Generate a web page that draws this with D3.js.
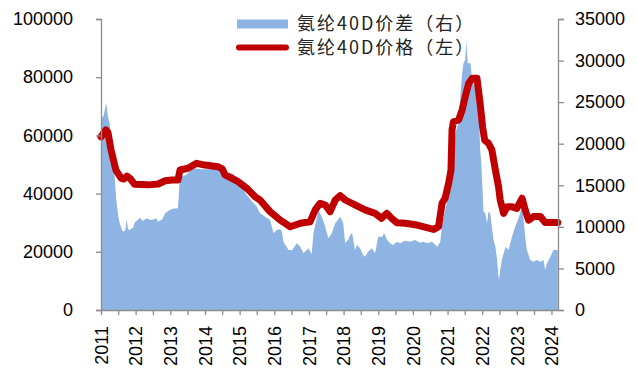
<!DOCTYPE html>
<html>
<head>
<meta charset="utf-8">
<script src="https://cdn.jsdelivr.net/npm/d3@7/dist/d3.min.js"></script>
<style>
  html, body { margin: 0; padding: 0; background: #fff; }
  svg { display: block; }
</style>
</head>
<body>
<svg id="chart" width="637" height="372"></svg>
<script>
// Spandex 40D price spread (right axis), weekly observations
const spreadDates = [
  "2011-01-01","2011-01-26","2011-02-25","2011-03-15","2011-04-02","2011-05-09","2011-06-11","2011-07-02",
  "2011-07-17","2011-08-08","2011-08-23","2011-09-14","2011-09-28","2011-10-13","2011-10-27","2011-12-06",
  "2011-12-21","2012-02-17","2012-03-15","2012-04-21","2012-06-14","2012-08-08","2012-08-26","2012-10-09",
  "2012-11-07","2012-12-25","2013-02-06","2013-03-22","2013-04-10","2013-04-24","2013-06-14","2013-07-21",
  "2013-09-10","2013-11-18","2014-02-25","2014-05-27","2014-07-21","2014-10-16","2014-12-25","2015-03-04",
  "2015-04-28","2015-07-02","2015-08-04","2015-09-28","2015-11-18","2015-12-25","2016-01-26","2016-03-04",
  "2016-03-22","2016-04-06","2016-05-31","2016-07-06","2016-08-26","2016-10-02","2016-11-04","2016-12-28",
  "2017-01-30","2017-02-17","2017-03-30","2017-04-10","2017-05-16","2017-06-22","2017-07-24","2017-08-30",
  "2017-10-05","2017-11-07","2017-11-26","2017-12-28","2018-01-17","2018-02-18","2018-03-11","2018-04-01",
  "2018-04-17","2018-05-02","2018-05-23","2018-06-24","2018-07-26","2018-08-16","2018-09-16","2018-10-28",
  "2018-11-29","2018-12-31","2019-02-12","2019-03-04","2019-04-05","2019-05-06","2019-06-07","2019-07-19",
  "2019-08-19","2019-10-11","2019-12-03","2020-01-25","2020-03-18","2020-04-19","2020-05-31","2020-07-23",
  "2020-09-14","2020-10-16","2020-11-06","2020-12-07","2021-01-07","2021-02-17","2021-03-04","2021-04-02",
  "2021-04-28","2021-05-16","2021-06-03","2021-06-18","2021-07-06","2021-07-17","2021-08-01","2021-08-30",
  "2021-09-17","2021-10-20","2021-11-26","2021-12-10","2021-12-21","2022-01-15","2022-02-03","2022-02-21",
  "2022-03-08","2022-03-26","2022-04-13","2022-05-01","2022-05-20","2022-06-07","2022-06-22","2022-06-29",
  "2022-07-10","2022-07-28","2022-09-03","2022-10-05","2022-11-11","2022-12-14","2023-01-19","2023-02-25",
  "2023-03-11","2023-03-30","2023-04-17","2023-05-23","2023-06-25","2023-07-31","2023-09-06","2023-10-09",
  "2023-10-27","2023-11-15","2023-12-21","2024-01-22","2024-03-08"
];
const spreadValues = [
  23000,23300,24860,23250,22450,18440,13230,11300,
  10420,9700,9420,9600,10900,9700,9620,9900,
  10500,11100,10700,11000,10820,11000,10620,10900,
  11630,12030,12200,12230,15600,16030,16240,16640,
  17040,16920,16920,17640,16440,16440,15640,14040,
  13230,12430,11630,11220,10820,9220,9620,9700,
  9420,8210,7220,7200,8020,7620,6820,7420,
  6720,9220,11300,12030,11220,10020,8620,9220,
  10420,10900,11220,10460,8060,8420,9020,9260,
  8210,7220,7820,7420,6610,6410,7010,7420,
  6820,8820,8820,9220,8420,8020,7820,8210,
  8020,8340,8210,8420,8100,8210,8020,8210,
  7620,8210,10430,12030,13630,16800,19200,21650,
  22450,25650,28470,29670,30070,32400,29670,29670,
  27660,26860,24450,19240,18040,11820,11630,10420,
  11820,11630,10020,8420,7620,6010,4010,3700,
  4810,6010,7620,7220,8820,10020,11030,12430,
  11220,8820,7220,6010,5810,6010,5810,6010,
  4810,5610,6420,7220,7220
];

// Spandex 40D price (left axis)
const priceDates = [
  "2011-01-01","2011-01-12","2011-02-21","2011-03-15","2011-04-17","2011-06-07","2011-08-01","2011-08-30",
  "2011-10-02","2011-11-04","2011-12-21","2012-05-12","2012-08-26","2012-11-07","2013-01-19","2013-03-22",
  "2013-04-13","2013-07-06","2013-10-05","2014-01-01","2014-05-20","2014-07-02","2014-08-01","2014-12-17",
  "2015-03-19","2015-06-14","2015-08-04","2015-11-18","2016-03-04","2016-06-18","2016-10-02","2017-01-12",
  "2017-03-08","2017-04-28","2017-06-22","2017-08-12","2017-10-05","2017-11-26","2018-01-19","2018-05-01",
  "2018-08-15","2018-11-29","2019-02-06","2019-04-02","2019-05-23","2019-07-17","2019-10-13","2020-02-14",
  "2020-08-08","2020-09-28","2020-11-04","2020-12-06","2021-01-12","2021-02-06","2021-02-17","2021-03-04",
  "2021-04-28","2021-06-03","2021-07-06","2021-08-12","2021-09-17","2021-11-07","2021-12-10","2022-01-05",
  "2022-01-27","2022-03-08","2022-04-13","2022-05-20","2022-06-22","2022-07-10","2022-08-15","2022-09-21",
  "2022-11-11","2023-01-01","2023-02-25","2023-03-30","2023-05-05","2023-06-25","2023-09-06","2023-10-27",
  "2024-03-08"
];
const priceValues = [
  59500,60000,61900,61000,55000,48100,45300,45000,
  46000,45200,43200,43000,43300,44400,44700,44700,
  48100,48700,50400,49800,49200,48500,46400,44100,
  41800,38900,37800,33800,30900,28600,29800,30300,
  34400,36700,36100,33800,37800,39300,37800,36100,
  34400,33200,31500,33200,31500,30000,29800,29200,
  27700,28600,36700,38400,43500,48100,61900,64700,
  65300,68700,73300,77900,79600,79600,71000,63000,
  58400,57300,55000,48100,42400,37800,33200,35500,
  35500,34900,38400,34400,30900,32100,32100,30100,
  30100
];

const leftTicks = [0, 20000, 40000, 60000, 80000, 100000];
const rightTicks = [0, 5000, 10000, 15000, 20000, 25000, 30000, 35000];
const yearLabels = ["2011","2012","2013","2014","2015","2016","2017","2018","2019","2020","2021","2022","2023","2024"];
const legendLabels = ["氨纶40D价差（右）", "氨纶40D价格（左）"];

const parse = d3.timeParse("%Y-%m-%d");
const spread = spreadDates.map((d, i) => ({ date: parse(d), value: spreadValues[i] }));
const price = priceDates.map((d, i) => ({ date: parse(d), value: priceValues[i] }));

const W = 637, H = 372;
const margin = { top: 19, right: 79, bottom: 62, left: 101 };
const iw = W - margin.left - margin.right;
const ih = H - margin.top - margin.bottom;

const svg = d3.select("#chart");
const g = svg.append("g").attr("transform", `translate(${margin.left},${margin.top})`);

const x = d3.scaleTime()
  .domain([parse("2011-01-01"), parse("2024-03-10")])
  .range([0, iw]);
const yL = d3.scaleLinear().domain([0, 100000]).range([ih, 0]);
const yR = d3.scaleLinear().domain([0, 35000]).range([ih, 0]);

const axisColor = "#8c8c8c";
const tickFont = "'Liberation Sans', Arial, sans-serif";

// spread area
g.append("path")
  .datum(spread)
  .attr("fill", "#8db4e2")
  .attr("d", d3.area().x(d => x(d.date)).y0(yR(0)).y1(d => yR(d.value)));

// price line
g.append("path")
  .datum(price)
  .attr("fill", "none")
  .attr("stroke", "#c00000")
  .attr("stroke-width", 7)
  .attr("stroke-linejoin", "round")
  .attr("stroke-linecap", "round")
  .attr("d", d3.line().x(d => x(d.date)).y(d => yL(d.value)));

// left axis
const gl = g.append("g")
  .call(d3.axisLeft(yL).tickValues(leftTicks).tickFormat(d3.format("d")).tickSize(5).tickPadding(23));
// right axis
const gr = g.append("g").attr("transform", `translate(${iw},0)`)
  .call(d3.axisRight(yR).tickValues(rightTicks).tickFormat(d3.format("d")).tickSize(6).tickPadding(11));
// bottom axis: ticks every half year, labels on years
const halfYears = d3.timeMonth.every(6).range(parse("2011-01-01"), parse("2024-03-11"));
const gb = g.append("g").attr("transform", `translate(0,${ih})`)
  .call(d3.axisBottom(x).tickValues(halfYears).tickSize(5)
    .tickFormat(d => d.getMonth() === 0 ? yearLabels[d.getFullYear() - 2011] : ""));

[gl, gr, gb].forEach(a => {
  a.select(".domain").attr("stroke", axisColor).attr("stroke-width", 1.3);
  a.selectAll(".tick line").attr("stroke", axisColor).attr("stroke-width", 1.3);
  a.selectAll("text").attr("fill", "#000").style("font-family", tickFont).style("font-size", "18px");
});
gb.select(".domain").attr("d", `M0,0.5H${iw}`);

gb.selectAll(".tick text")
  .attr("transform", "rotate(-90)")
  .attr("text-anchor", "end")
  .attr("x", -16)
  .attr("y", 0)
  .attr("dy", "0.35em");

// legend
const lg = svg.append("g");
lg.append("rect").attr("x", 237).attr("y", 19.5).attr("width", 51).attr("height", 9).attr("fill", "#8db4e2");
lg.append("line").attr("x1", 239).attr("x2", 286).attr("y1", 47.5).attr("y2", 47.5)
  .attr("stroke", "#c00000").attr("stroke-width", 6).attr("stroke-linecap", "round");
legendLabels.forEach((t, i) => {
  lg.append("text")
    .attr("x", 297).attr("y", 24 + i * 24)
    .attr("dy", "0.36em")
    .style("font-family", "'Noto Sans CJK SC', sans-serif")
    .style("font-size", "18px")
    .style("letter-spacing", "2px")
    .attr("fill", "#222")
    .text(t);
});
</script>
</body>
</html>
